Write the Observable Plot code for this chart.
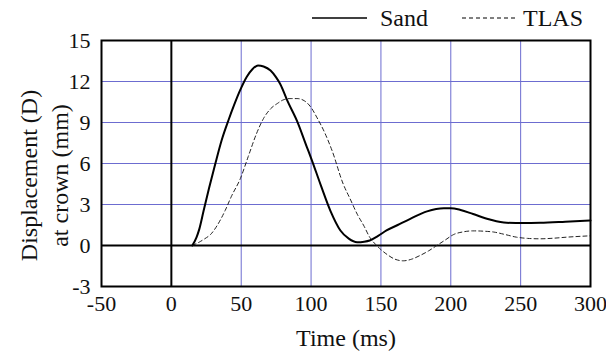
<!DOCTYPE html>
<html>
<head>
<meta charset="utf-8">
<script src="https://cdn.jsdelivr.net/npm/d3@7"></script>
<script src="https://cdn.jsdelivr.net/npm/@observablehq/plot@0.6"></script>
<style>
  html, body { margin: 0; padding: 0; background: #fff; }
  body { width: 606px; height: 358px; overflow: hidden; }
  #legend { height: 30px; position: relative; font-family: 'Liberation Serif', serif; font-size: 24px; color: #111; }
  #legend .item { position: absolute; top: 5px; display: flex; align-items: center; height: 26px; }
  #legend svg { display: block; }
  #chart svg, #chart svg text { font-family: 'Liberation Serif', serif !important; }
</style>
</head>
<body>
<div id="legend"></div>
<div id="chart"></div>
<script>
// ---- data ----
const sandTime = [15, 18, 20, 23, 27, 31.5, 36, 41, 45, 49.4, 54, 58, 62, 66, 71, 75, 78, 83, 90, 97, 100, 107, 114, 121, 127, 133, 138, 142, 148, 154, 162, 171, 183, 195, 200, 207, 216, 228, 240, 252, 264, 282, 300];
const sandDisp = [0, 0.6, 1.2, 2.5, 4.2, 6.0, 7.7, 9.2, 10.3, 11.4, 12.35, 12.9, 13.17, 13.1, 12.8, 12.3, 11.8, 10.6, 9.1, 7.2, 6.4, 4.4, 2.5, 1.1, 0.5, 0.24, 0.28, 0.37, 0.7, 1.1, 1.5, 1.95, 2.5, 2.73, 2.73, 2.6, 2.3, 1.9, 1.66, 1.64, 1.66, 1.74, 1.83];
const tlasTime = [15, 20, 24, 28, 33, 38.5, 43, 49.4, 55, 61, 66, 71, 76, 80, 85, 90, 95, 100, 104, 110, 115, 123, 128, 133, 138, 142, 146, 150, 155, 160, 166, 172, 178, 184, 190, 196, 202, 209, 216, 223, 231, 239, 247, 255, 264, 273, 283, 300];
const tlasDisp = [0, 0.25, 0.5, 0.8, 1.5, 2.56, 3.6, 4.9, 6.5, 8.2, 9.3, 10.0, 10.4, 10.65, 10.75, 10.75, 10.6, 10.1, 9.4, 8.2, 6.95, 4.5, 3.4, 2.3, 1.4, 0.6, 0.1, -0.3, -0.7, -1.0, -1.12, -1.0, -0.73, -0.4, 0, 0.4, 0.8, 1.0, 1.07, 1.05, 0.98, 0.8, 0.61, 0.52, 0.49, 0.53, 0.61, 0.71];
const xTicks = [-50, 0, 50, 100, 150, 200, 250, 300];
const yTicks = [-3, 0, 3, 6, 9, 12, 15];
const xGrid = [50, 100, 150, 200, 250];
const yGrid = [3, 6, 9, 12];
const seriesNames = ["Sand", "TLAS"];
const xLabel = "Time (ms)";
const yLabel = "Displacement (D)\nat crown (mm)";

const sand = sandTime.map((t, i) => ({t, v: sandDisp[i]}));
const tlas = tlasTime.map((t, i) => ({t, v: tlasDisp[i]}));

const font = "'Liberation Serif', serif";
const gridColor = "#6c6cd0";

const chart = Plot.plot({
  width: 606,
  height: 328,
  marginTop: 10,
  marginBottom: 72,
  marginLeft: 101,
  marginRight: 16,
  style: {fontFamily: font, fontSize: "22px", color: "#111", background: "#fff", overflow: "visible"},
  x: {domain: [-50, 300]},
  y: {domain: [-3, 15]},
  marks: [
    Plot.ruleX(xGrid, {stroke: gridColor, strokeWidth: 1}),
    Plot.ruleY(yGrid, {stroke: gridColor, strokeWidth: 1}),
    Plot.ruleX([0], {stroke: "#000", strokeWidth: 2}),
    Plot.ruleY([0], {stroke: "#000", strokeWidth: 2}),
    Plot.line(tlas, {x: "t", y: "v", stroke: "#222", strokeWidth: 1, strokeDasharray: "4,3", curve: "monotone-x"}),
    Plot.line(sand, {x: "t", y: "v", stroke: "#000", strokeWidth: 2, curve: "monotone-x"}),
    Plot.frame({stroke: "#000", strokeWidth: 2}),
    Plot.axisX(xTicks, {tickSize: 0, tickPadding: 9, label: null, tickFormat: d => String(d), fontSize: 22, fill: "#111"}),
    Plot.axisY(yTicks, {tickSize: 0, tickPadding: 11, label: null, tickFormat: d => String(d), fontSize: 22, fill: "#111"}),
    Plot.text([xLabel], {text: d => d, frameAnchor: "bottom", dy: 52, lineAnchor: "middle", textAnchor: "middle", fontSize: 24, fill: "#111"}),
    Plot.text([yLabel], {text: d => d, frameAnchor: "left", textAnchor: "middle", rotate: -90, dx: -59, dy: 12, lineAnchor: "middle", lineHeight: 1.3, fontSize: 24, fill: "#111"})
  ]
});
document.getElementById("chart").appendChild(chart);

// legend
const legend = document.getElementById("legend");
const items = [
  {name: seriesNames[0], left: 312, lineW: 55, dash: null, sw: 1.5, gap: 13},
  {name: seriesNames[1], left: 462, lineW: 56, dash: "4,3", sw: 1, gap: 5}
];
for (const it of items) {
  const div = document.createElement("div");
  div.className = "item";
  div.style.left = it.left + "px";
  div.innerHTML = `<svg width="${it.lineW}" height="10"><line x1="0" x2="${it.lineW}" y1="5" y2="5" stroke="#000" stroke-width="${it.sw}" ${it.dash ? `stroke-dasharray="${it.dash}"` : ""}/></svg><span style="margin-left:${it.gap}px">${it.name}</span>`;
  legend.appendChild(div);
}
</script>
</body>
</html>
